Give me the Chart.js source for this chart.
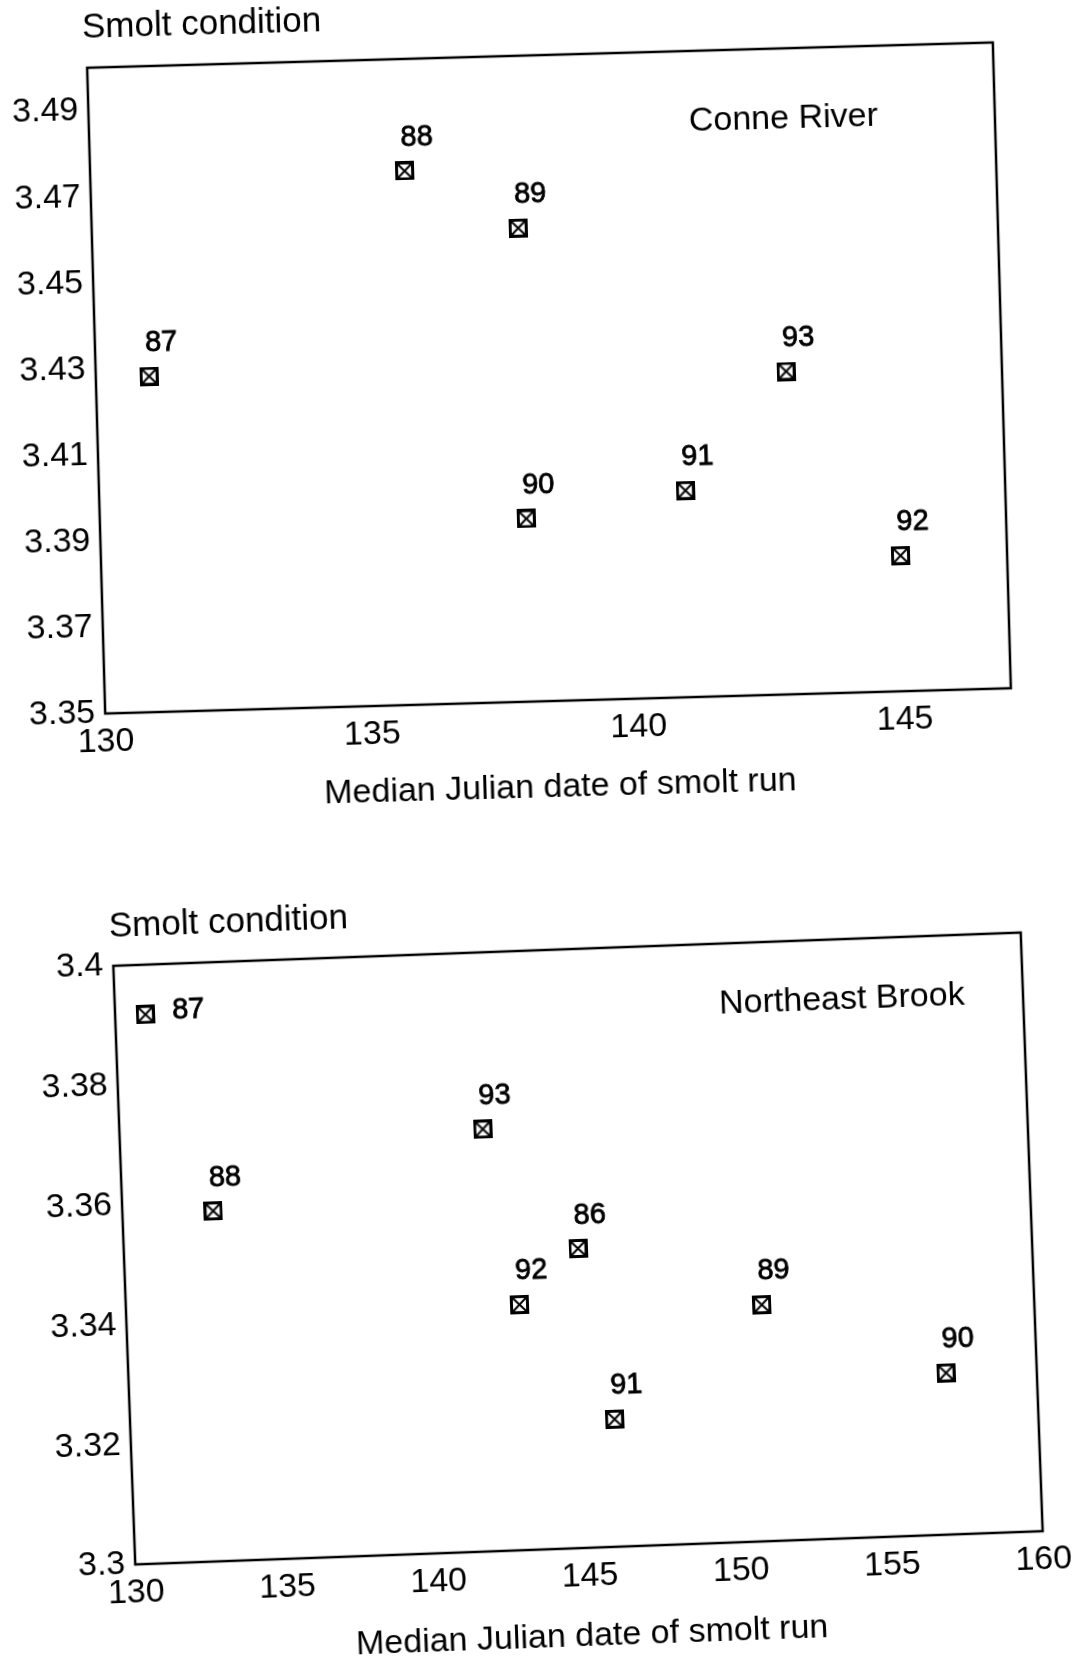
<!DOCTYPE html>
<html>
<head>
<meta charset="utf-8">
<title>Smolt condition vs median Julian date</title>
<script src="https://cdn.jsdelivr.net/npm/chart.js@4.4.0/dist/chart.umd.min.js"></script>
<style>
  body { margin: 0; background: #fff; }
  #wrap { position: relative; width: 1077px; height: 1658px; overflow: hidden; }
  canvas { position: absolute; left: 0; }
  /* the printed page was scanned a little askew */
  #conne { top: -30px; transform-origin: 549px 408px; transform: rotate(-1.6deg); }
  #northeast { top: 840px; transform-origin: 578px 409px; transform: rotate(-2.1deg); }
</style>
</head>
<body>
<div id="wrap">
  <canvas id="conne" width="1077" height="860"></canvas>
  <canvas id="northeast" width="1077" height="818"></canvas>
</div>
<script>
/* DATA */

// Conne River
const conneYears = ['87', '88', '89', '90', '91', '92', '93'];
const conneDates = [131, 135.9, 138, 138, 141, 145, 142.95];
const conneCondition = [3.428, 3.474, 3.460, 3.3925, 3.398, 3.3815, 3.425];
const conneXTicks = [130, 135, 140, 145];
const conneYTicks = [3.35, 3.37, 3.39, 3.41, 3.43, 3.45, 3.47, 3.49];

// Northeast Brook
const nbYears = ['87', '88', '93', '86', '92', '91', '89', '90'];
const nbDates = [131, 133, 142, 145, 143, 146, 151, 157];
const nbCondition = [3.3917, 3.3585, 3.3705, 3.350, 3.341, 3.3213, 3.3395, 3.327];
const nbXTicks = [130, 135, 140, 145, 150, 155, 160];
const nbYTicks = [3.30, 3.32, 3.34, 3.36, 3.38, 3.40];


/* STYLE */

const FONT = '"Liberation Sans", Arial, Helvetica, sans-serif';
const INK = '#000';

// square with a diagonal cross, used as point style
const marker = document.createElement('canvas');
marker.width = 19;
marker.height = 19;
(function () {
  const c = marker.getContext('2d');
  c.strokeStyle = INK;
  c.lineWidth = 3;
  c.strokeRect(1.5, 1.5, 16, 16);
  c.lineWidth = 2;
  c.beginPath();
  c.moveTo(3, 3); c.lineTo(16, 16);
  c.moveTo(16, 3); c.lineTo(3, 16);
  c.stroke();
})();


/* PLUGINS */

// closed frame round the plot area
const framePlugin = {
  id: 'frame',
  beforeDatasetsDraw(chart) {
    const a = chart.chartArea;
    const ctx = chart.ctx;
    ctx.save();
    ctx.strokeStyle = INK;
    ctx.lineWidth = 2.5;
    ctx.strokeRect(a.left, a.top, a.right - a.left, a.bottom - a.top);
    ctx.restore();
  }
};

// year labels next to each point, axis heading and river name
const textPlugin = {
  id: 'texts',
  afterDatasetsDraw(chart, args, opts) {
    const ctx = chart.ctx;
    ctx.save();
    ctx.fillStyle = INK;
    ctx.strokeStyle = INK;
    ctx.lineWidth = 0.8;

    ctx.font = '29px ' + FONT;
    ctx.textAlign = 'center';
    ctx.textBaseline = 'middle';
    chart.getDatasetMeta(0).data.forEach(function (pt, i) {
      const name = opts.years[i];
      let x = pt.x + 13;
      let y = pt.y - 33;
      if (opts.rightOf.includes(name)) {
        x = pt.x + 43;
        y = pt.y - 3;
      }
      ctx.fillText(name, x, y);
      ctx.strokeText(name, x, y);
    });

    ctx.font = '35px ' + FONT;
    ctx.textAlign = 'left';
    ctx.fillText('Smolt condition', opts.headX, opts.headY);
    ctx.font = '34px ' + FONT;
    ctx.fillText(opts.river, opts.riverX, opts.riverY);
    ctx.restore();
  }
};


/* CHART GENERATOR */

function makeChart(id, cfg) {
  const ctx = document.getElementById(id).getContext('2d');
  return new Chart(ctx, {
    type: 'scatter',
    data: {
      datasets: [{
        data: cfg.dates.map(function (d, i) { return { x: d, y: cfg.values[i] }; }),
        pointStyle: marker,
        pointRadius: 9,
        borderColor: INK,
        backgroundColor: INK
      }]
    },
    options: {
      responsive: false,
      animation: false,
      layout: { padding: cfg.padding },
      plugins: {
        legend: { display: false },
        tooltip: { enabled: false },
        texts: cfg.texts
      },
      scales: {
        x: {
          type: 'linear',
          min: cfg.xMin,
          max: cfg.xMax,
          afterBuildTicks: function (s) { s.ticks = cfg.xTicks.map(function (v) { return { value: v }; }); },
          afterFit: function (s) { s.height = cfg.xHeight; },
          grid: { display: false, drawTicks: false },
          border: { display: false },
          ticks: {
            padding: 8,
            color: INK,
            font: { family: FONT, size: 34 },
            maxRotation: 0,
            callback: function (v) { return String(v); }
          },
          title: {
            display: true,
            text: 'Median Julian date of smolt run',
            color: INK,
            font: { family: FONT, size: 34 },
            padding: { top: 0, bottom: cfg.titlePad }
          }
        },
        y: {
          type: 'linear',
          min: cfg.yMin,
          max: cfg.yMax,
          afterBuildTicks: function (s) { s.ticks = cfg.yTicks.map(function (v) { return { value: v }; }); },
          afterFit: function (s) { s.width = cfg.yWidth; },
          grid: { display: false, drawTicks: false },
          border: { display: false },
          ticks: {
            padding: 10,
            color: INK,
            font: { family: FONT, size: 34 },
            callback: function (v) { return String(Number(v.toFixed(2))); }
          }
        }
      }
    },
    plugins: [framePlugin, textPlugin]
  });
}

makeChart('conne', {
  dates: conneDates,
  values: conneCondition,
  xTicks: conneXTicks,
  yTicks: conneYTicks,
  xMin: 130, xMax: 147,
  yMin: 3.35, yMax: 3.50,
  padding: { top: 85, right: 75, bottom: 0, left: 0 },
  yWidth: 96,
  xHeight: 129,
  titlePad: 22,
  texts: {
    years: conneYears, rightOf: [],
    river: 'Conne River', riverX: 696, riverY: 156,
    headX: 92, headY: 45
  }
});

makeChart('northeast', {
  dates: nbDates,
  values: nbCondition,
  xTicks: nbXTicks,
  yTicks: nbYTicks,
  xMin: 130, xMax: 160,
  yMin: 3.30, yMax: 3.40,
  padding: { top: 109, right: 45, bottom: 0, left: 0 },
  yWidth: 124,
  xHeight: 110,
  titlePad: 1,
  texts: {
    years: nbYears, rightOf: ['87'],
    river: 'Northeast Brook', riverX: 728, riverY: 170,
    headX: 121, headY: 70
  }
});
</script>
</body>
</html>
